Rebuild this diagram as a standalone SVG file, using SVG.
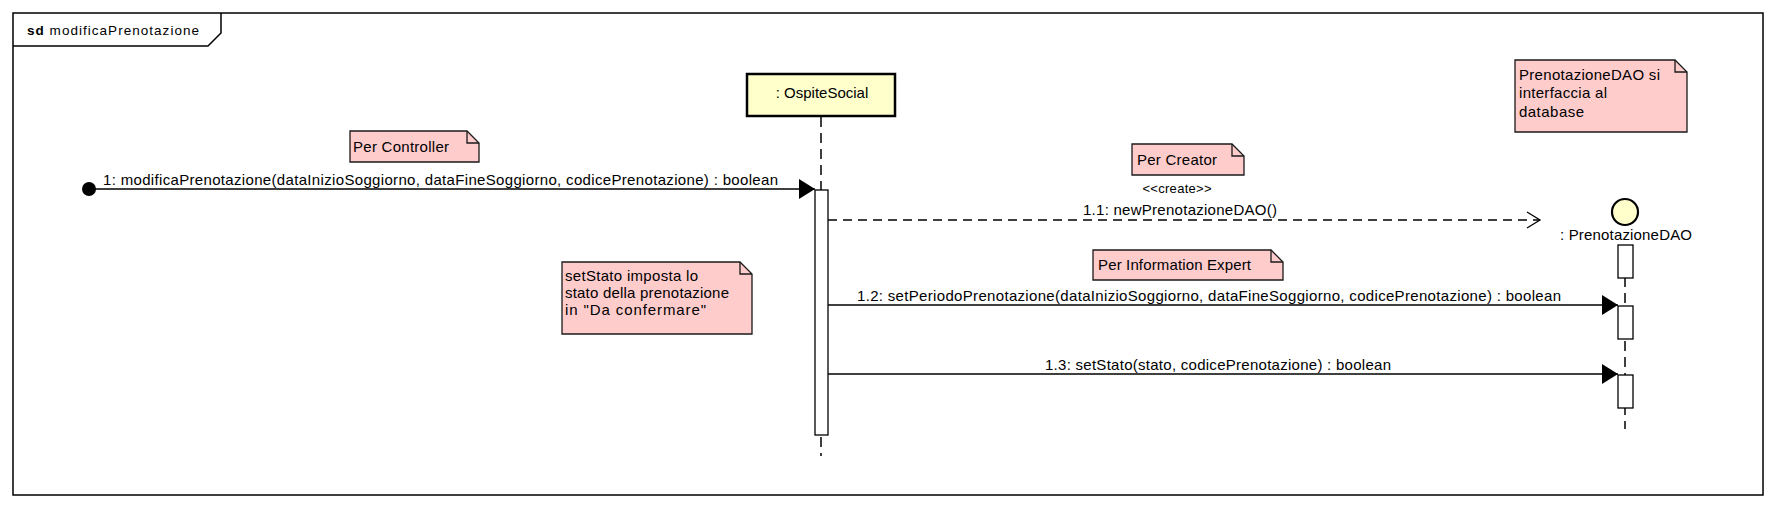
<svg xmlns="http://www.w3.org/2000/svg" width="1777" height="508" viewBox="0 0 1777 508">
<style>
text{font-family:"Liberation Sans",Arial,sans-serif;fill:#000;}
.t{font-size:15px;}
.s{font-size:13px;}
.frame{fill:none;stroke:#000;stroke-width:1.5;}
.note{fill:#FFCCCC;stroke:#1a1a1a;stroke-width:1.3;}
.fold{fill:none;stroke:#1a1a1a;stroke-width:1.3;}
.life{stroke:#000;stroke-width:1.5;stroke-dasharray:10,6;fill:none;}
.act{fill:#fff;stroke:#000;stroke-width:1.3;}
.msg{stroke:#000;stroke-width:1.3;fill:none;}
.dmsg{stroke:#000;stroke-width:1.3;fill:none;stroke-dasharray:9,6;}
</style>
<defs>
<marker id="filled" markerWidth="17" markerHeight="20" refX="16" refY="10" orient="auto" markerUnits="userSpaceOnUse">
<path d="M0,0 L16,10 L0,20 Z" fill="#000"/>
</marker>
<marker id="open" markerWidth="16" markerHeight="20" refX="14" refY="9" orient="auto" markerUnits="userSpaceOnUse">
<path d="M1,1 L14,9 L1,17" fill="none" stroke="#000" stroke-width="1.3"/>
</marker>
</defs>
<rect x="0" y="0" width="1777" height="508" fill="#fff"/>

<g id="frame">
<rect class="frame" x="13" y="13" width="1750" height="482"/>
<path class="frame" d="M13,46 L208,46 L221,33 L221,13"/>
<text x="27" y="35" font-size="13.5" textLength="172" lengthAdjust="spacing"><tspan font-weight="bold">sd</tspan> modificaPrenotazione</text>
</g>

<g id="ospiteSocial">
<line class="life" x1="821" y1="117" x2="821" y2="456"/>
<rect x="747" y="74" width="148" height="42" fill="#FFFFCC" stroke="#000" stroke-width="2.5"/>
<text class="t" x="822" y="98" text-anchor="middle">: OspiteSocial</text>
<rect class="act" x="815" y="190" width="13" height="245"/>
</g>

<g id="prenotazioneDAO">
<line class="life" x1="1625" y1="245" x2="1625" y2="429"/>
<circle cx="1625" cy="212" r="13" fill="#FFFFCC" stroke="#000" stroke-width="2.2"/>
<text class="t" x="1626" y="240" text-anchor="middle" textLength="132" lengthAdjust="spacing">: PrenotazioneDAO</text>
<rect class="act" x="1618" y="245" width="15" height="33"/>
<rect class="act" x="1618" y="306" width="15" height="33"/>
<rect class="act" x="1618" y="375" width="15" height="33"/>
</g>

<g id="noteController">
<path class="note" d="M350,131 L467,131 L479,143 L479,162 L350,162 Z"/>
<path class="fold" d="M467,131 L467,143 L479,143"/>
<text class="t" x="353" y="152" textLength="96" lengthAdjust="spacing">Per Controller</text>
</g>

<g id="noteCreator">
<path class="note" d="M1132,144 L1232,144 L1244,156 L1244,175 L1132,175 Z"/>
<path class="fold" d="M1232,144 L1232,156 L1244,156"/>
<text class="t" x="1137" y="165" textLength="80" lengthAdjust="spacing">Per Creator</text>
</g>

<g id="noteInfoExpert">
<path class="note" d="M1093,250 L1271,250 L1283,262 L1283,280 L1093,280 Z"/>
<path class="fold" d="M1271,250 L1271,262 L1283,262"/>
<text class="t" x="1098" y="270" textLength="153" lengthAdjust="spacing">Per Information Expert</text>
</g>

<g id="noteSetStato">
<path class="note" d="M562,262 L740,262 L752,274 L752,334 L562,334 Z"/>
<path class="fold" d="M740,262 L740,274 L752,274"/>
<text class="t" x="565" y="281" textLength="133" lengthAdjust="spacing">setStato imposta lo</text>
<text class="t" x="565" y="298" textLength="164" lengthAdjust="spacing">stato della prenotazione</text>
<text class="t" x="565" y="315" textLength="141" lengthAdjust="spacing">in "Da confermare"</text>
</g>

<g id="noteDAO">
<path class="note" d="M1515,60 L1675,60 L1687,72 L1687,132 L1515,132 Z"/>
<path class="fold" d="M1675,60 L1675,72 L1687,72"/>
<text class="t" x="1519" y="80" textLength="141" lengthAdjust="spacing">PrenotazioneDAO si</text>
<text class="t" x="1519" y="98" textLength="88" lengthAdjust="spacing">interfaccia al</text>
<text class="t" x="1519" y="117" textLength="65" lengthAdjust="spacing">database</text>
</g>

<g id="connectors">
<circle cx="89" cy="189" r="7" fill="#000"/>
<line class="msg" x1="89" y1="189" x2="815" y2="189" marker-end="url(#filled)"/>
<text class="t" x="103" y="185" textLength="675" lengthAdjust="spacing">1: modificaPrenotazione(dataInizioSoggiorno, dataFineSoggiorno, codicePrenotazione) : boolean</text>

<line class="dmsg" x1="828" y1="220" x2="1540" y2="220" marker-end="url(#open)"/>
<text class="s" x="1177" y="193" text-anchor="middle" textLength="69" lengthAdjust="spacing">&lt;&lt;create&gt;&gt;</text>
<text class="t" x="1083" y="215" textLength="194" lengthAdjust="spacing">1.1: newPrenotazioneDAO()</text>

<line class="msg" x1="828" y1="305" x2="1618" y2="305" marker-end="url(#filled)"/>
<text class="t" x="857" y="301" textLength="704" lengthAdjust="spacing">1.2: setPeriodoPrenotazione(dataInizioSoggiorno, dataFineSoggiorno, codicePrenotazione) : boolean</text>

<line class="msg" x1="828" y1="374" x2="1618" y2="374" marker-end="url(#filled)"/>
<text class="t" x="1045" y="370" textLength="346" lengthAdjust="spacing">1.3: setStato(stato, codicePrenotazione) : boolean</text>
</g>
</svg>
